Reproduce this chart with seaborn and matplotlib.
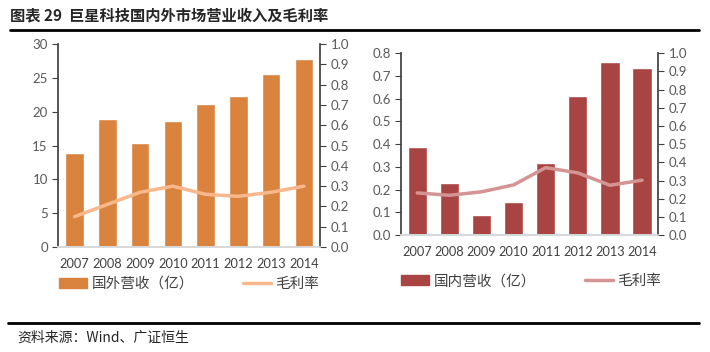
import matplotlib
matplotlib.use("Agg")
import matplotlib.pyplot as plt
import seaborn as sns
from matplotlib.lines import Line2D

years = ["2007", "2008", "2009", "2010", "2011", "2012", "2013", "2014"]
foreign_rev = [13.9, 18.9, 15.4, 18.6, 21.2, 22.3, 25.6, 27.8]
foreign_margin = [0.15, 0.21, 0.27, 0.30, 0.26, 0.25, 0.27, 0.30]
domestic_rev = [0.388, 0.23, 0.089, 0.146, 0.317, 0.611, 0.762, 0.733]
domestic_margin = [0.232, 0.219, 0.238, 0.276, 0.371, 0.342, 0.274, 0.302]

sns.set_theme(style="white")
plt.rcParams["font.family"] = ["Lato", "Noto Sans CJK SC", "DejaVu Sans"]

fig = plt.figure(figsize=(7.1, 3.52), dpi=100)
grey = "#595959"


def panel(rect, rev, margin, bar_c, line_c, ymax, ystep, width, rev_label, leg_pos):
    ax = fig.add_axes(rect)
    sns.barplot(x=years, y=rev, color=bar_c, width=width, ax=ax, saturation=1)
    ax.set_xlim(-0.5, 7.5)
    ax.set_ylim(0, ymax)
    ax.set_yticks([ystep * i for i in range(int(round(ymax / ystep)) + 1)])
    ax2 = ax.twinx()
    sns.lineplot(x=list(range(len(years))), y=margin, color=line_c, lw=2.5, ax=ax2)
    ax2.set_ylim(0, 1.0)
    ax2.set_yticks([i / 10 for i in range(11)])
    ax2.set_yticklabels([f"{i / 10:.1f}" for i in range(11)])
    for a in (ax, ax2):
        a.spines["top"].set_visible(False)
        a.spines["bottom"].set_color("#D9D9D9")
        a.spines["left"].set_color("#404040")
        a.spines["right"].set_color("#404040")
        a.tick_params(axis="y", colors="#404040", labelsize=9.5, length=4, width=0.8,
                      direction="out")
        a.tick_params(axis="y", labelcolor=grey)
        a.set_xlabel("")
        a.set_ylabel("")
    ax.spines["right"].set_visible(False)
    ax2.spines["left"].set_visible(False)
    ax.tick_params(axis="x", colors=grey, labelsize=9.2, length=0, pad=8)
    ax.tick_params(axis="x", labelcolor="#404040")
    handles = [plt.Rectangle((0, 0), 1, 1, color=bar_c),
               Line2D([0], [0], color=line_c, lw=2.5)]
    ax.legend(handles, [rev_label, "毛利率"], loc="center",
              bbox_to_anchor=leg_pos, ncol=2, frameon=False,
              fontsize=10.5, columnspacing=3.4, handlelength=1.9,
              handletextpad=0.3, labelcolor="#404040")
    return ax


panel([0.082, 0.298, 0.369, 0.577], foreign_rev, foreign_margin,
      "#D9833F", "#F8B88B", 30, 5, 0.57, "国外营收（亿）", (0.5, -0.182))
panel([0.565, 0.332, 0.362, 0.517], domestic_rev, domestic_margin,
      "#A84442", "#D59494", 0.8, 0.1, 0.6, "国内营收（亿）", (0.506, -0.253))

fig.text(0.014, 0.955, "图表 29  巨星科技国内外市场营业收入及毛利率", fontsize=11,
         fontweight="bold", va="center", family=["Noto Sans CJK SC"])
fig.add_artist(Line2D([0.014, 0.985], [0.915, 0.915], color="black", lw=2))
fig.add_artist(Line2D([0.011, 0.985], [0.083, 0.083], color="black", lw=2))
fig.text(0.025, 0.042, "资料来源：Wind、广证恒生", fontsize=10, va="center",
         family=["Noto Sans CJK SC"])

fig.savefig("out.png", dpi=100)
